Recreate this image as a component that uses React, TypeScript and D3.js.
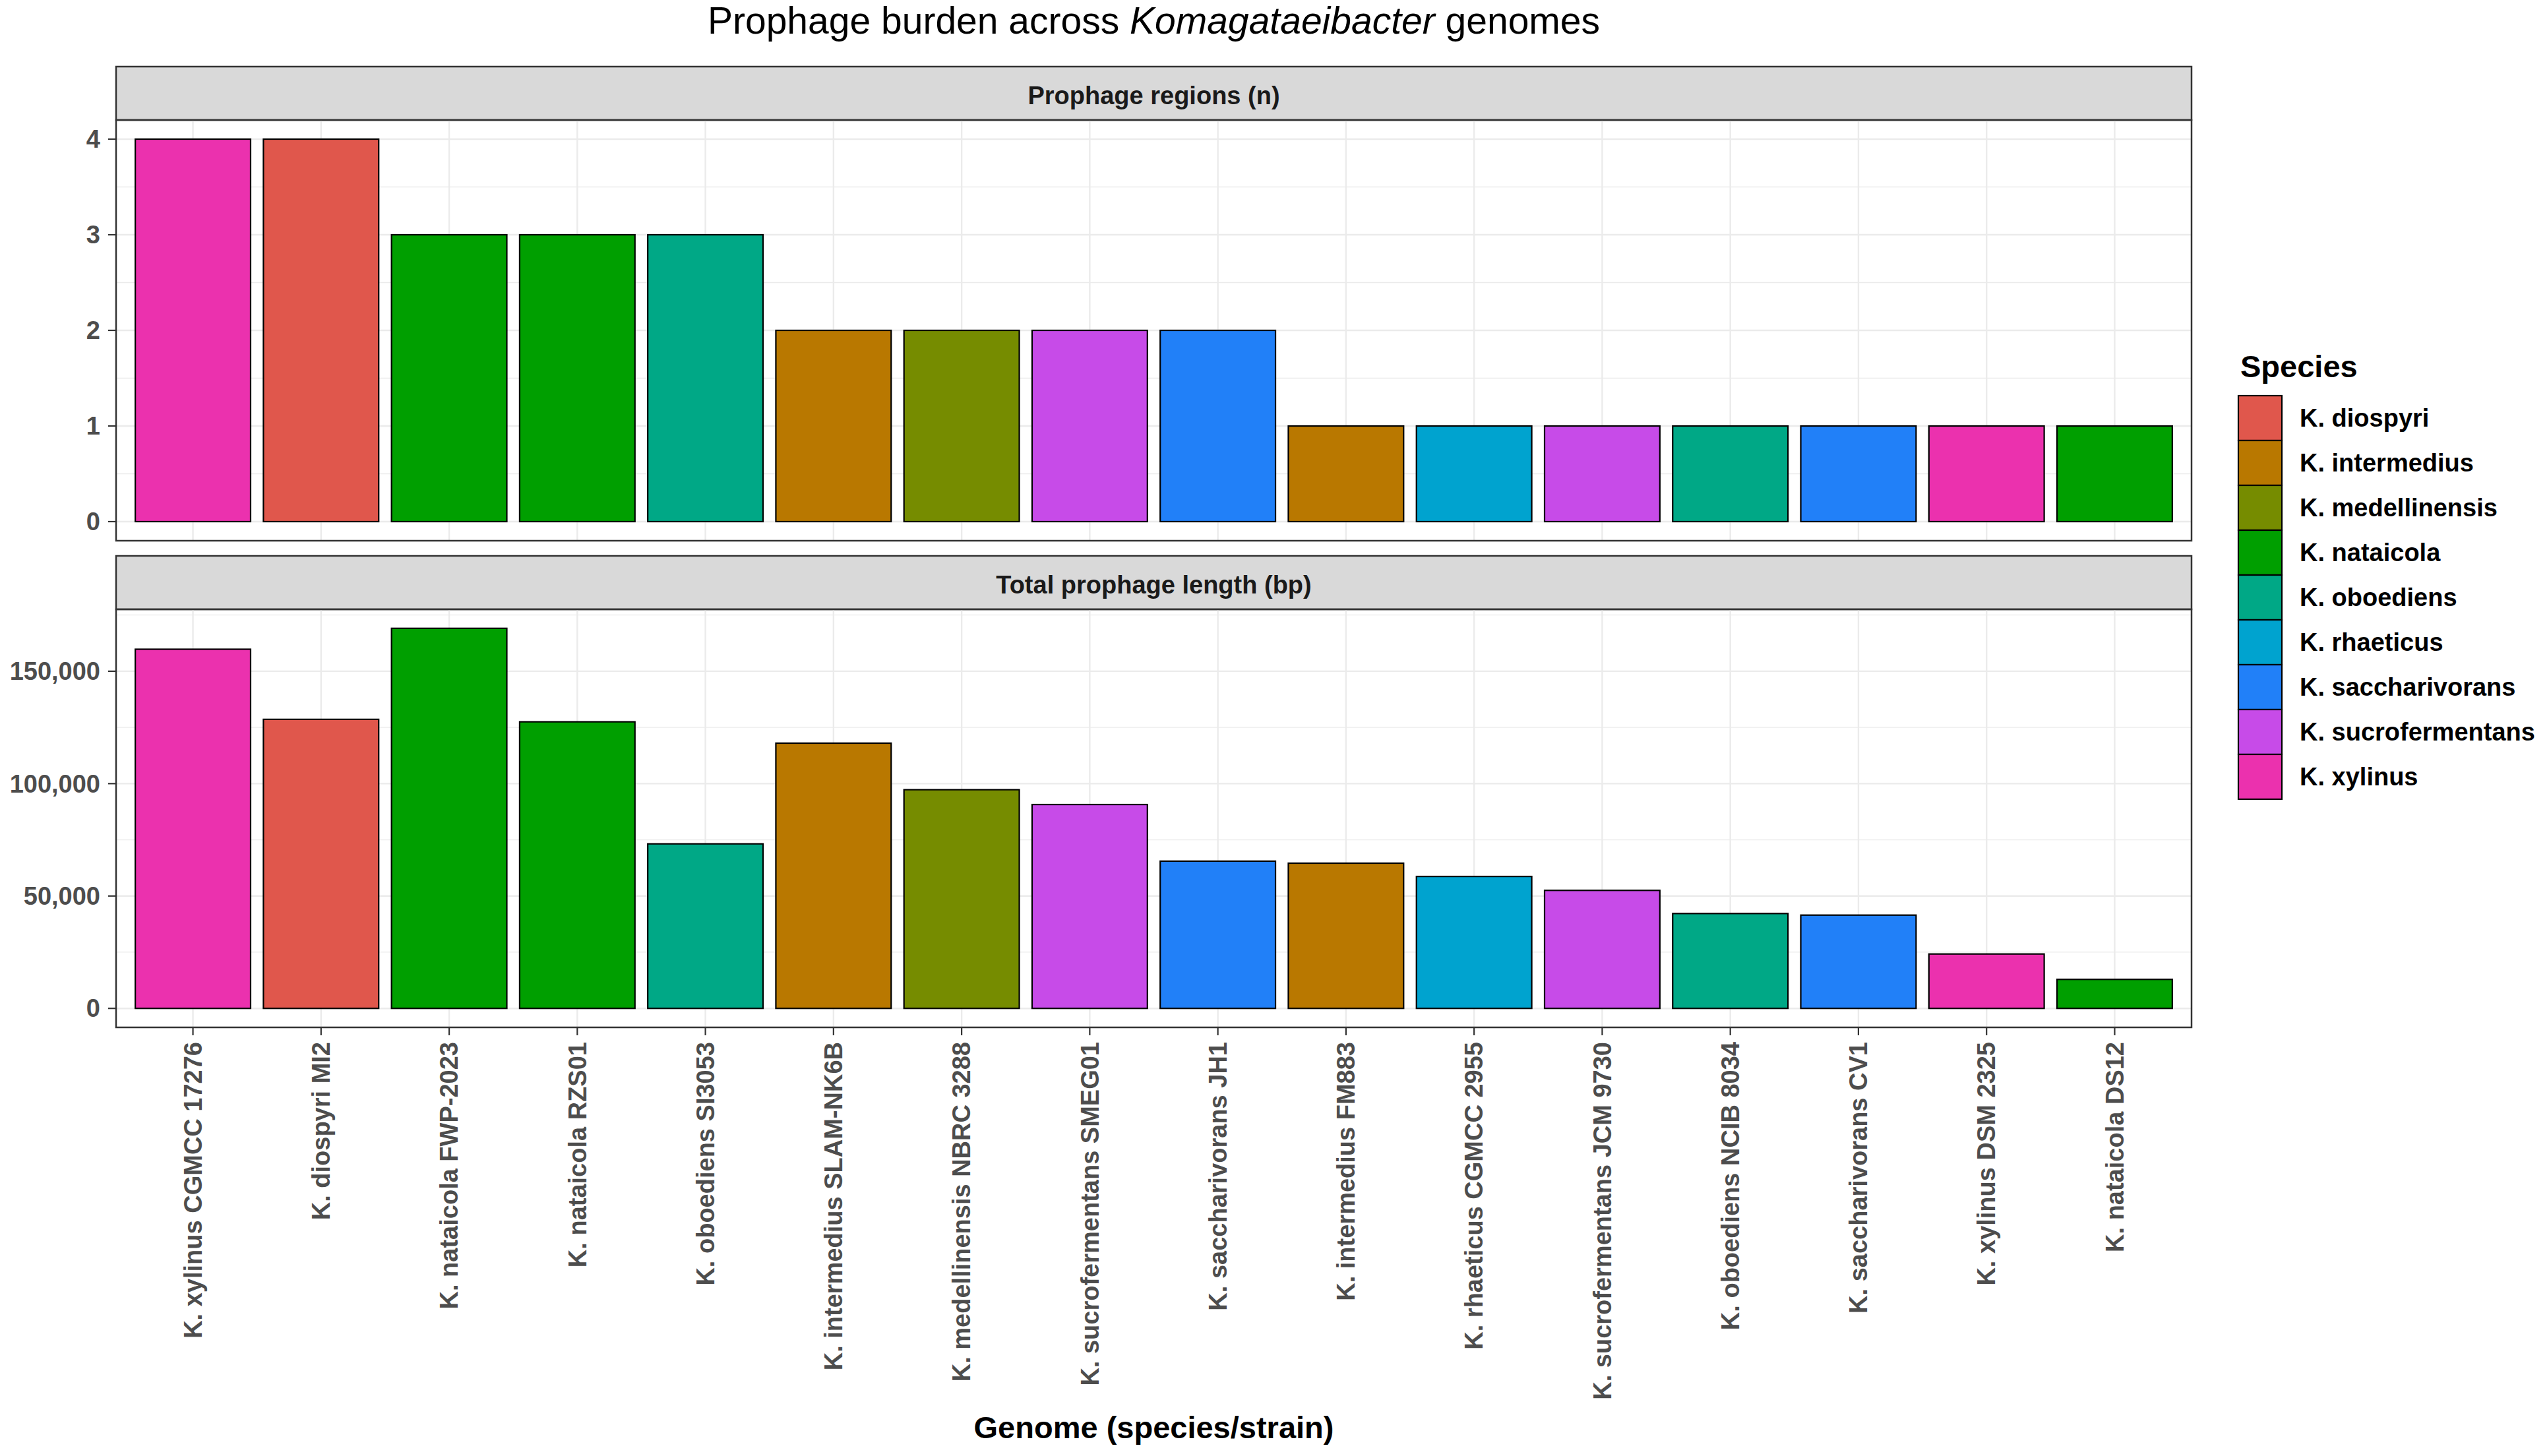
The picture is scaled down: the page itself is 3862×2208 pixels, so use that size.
import * as d3 from "d3";

// genomes in plotted order
const genomes = [
  "K. xylinus CGMCC 17276",
  "K. diospyri MI2",
  "K. nataicola FWP-2023",
  "K. nataicola RZS01",
  "K. oboediens SI3053",
  "K. intermedius SLAM-NK6B",
  "K. medellinensis NBRC 3288",
  "K. sucrofermentans SMEG01",
  "K. saccharivorans JH1",
  "K. intermedius FM883",
  "K. rhaeticus CGMCC 2955",
  "K. sucrofermentans JCM 9730",
  "K. oboediens NCIB 8034",
  "K. saccharivorans CV1",
  "K. xylinus DSM 2325",
  "K. nataicola DS12",
];
const genomeSpecies = [
  "K. xylinus",
  "K. diospyri",
  "K. nataicola",
  "K. nataicola",
  "K. oboediens",
  "K. intermedius",
  "K. medellinensis",
  "K. sucrofermentans",
  "K. saccharivorans",
  "K. intermedius",
  "K. rhaeticus",
  "K. sucrofermentans",
  "K. oboediens",
  "K. saccharivorans",
  "K. xylinus",
  "K. nataicola",
];
const regionCounts = [4, 4, 3, 3, 3, 2, 2, 2, 2, 1, 1, 1, 1, 1, 1, 1];
const totalLengths = [
  159800, 128600, 169100, 127500, 73200, 118000, 97300, 90700, 65500, 64600,
  58700, 52500, 42200, 41500, 24200, 12900,
];

const speciesList = [
  "K. diospyri",
  "K. intermedius",
  "K. medellinensis",
  "K. nataicola",
  "K. oboediens",
  "K. rhaeticus",
  "K. saccharivorans",
  "K. sucrofermentans",
  "K. xylinus",
];
const speciesColors = [
  "#E0574C",
  "#B97800",
  "#768C00",
  "#009F00",
  "#00A886",
  "#00A3CF",
  "#2180F8",
  "#C74BE8",
  "#EB31AE",
];

const regionTicks = [0, 1, 2, 3, 4];
const lengthTicks = [0, 50000, 100000, 150000];

const W = 3862;
const H = 2208;
const FONT = "'Liberation Sans', Arial, sans-serif";

const left = 176;
const right = 3323;
const stripH = 81;
const top1 = 101;
const bottom1 = 820;
const top2 = 843;
const bottom2 = 1558;

const color = d3.scaleOrdinal<string, string>().domain(speciesList).range(speciesColors);

const x = d3
  .scaleBand<string>()
  .domain(genomes)
  .range([left, right])
  .paddingInner(0.1)
  .paddingOuter(0.15);

interface PanelProps {
  title: string;
  top: number;
  bottom: number;
  values: number[];
  ticks: number[];
  minor: number[];
  fmt: (v: number) => string;
}

function Panel({ title, top, bottom, values, ticks, minor, fmt }: PanelProps) {
  const maxV = d3.max(values) as number;
  const plotTop = top + stripH;
  const y = d3
    .scaleLinear()
    .domain([-0.05 * maxV, 1.05 * maxV])
    .range([bottom, plotTop]);
  const cx = (g: string) => (x(g) as number) + x.bandwidth() / 2;
  return (
    <g>
      {/* strip */}
      <rect
        x={left}
        y={top}
        width={right - left}
        height={stripH}
        fill="#D9D9D9"
        stroke="#333333"
        strokeWidth={2.5}
      />
      <text
        x={(left + right) / 2}
        y={top + 57}
        textAnchor="middle"
        fontFamily={FONT}
        fontWeight="bold"
        fontSize={38}
        fill="#1A1A1A"
      >
        {title}
      </text>
      {/* grid */}
      {minor.map((v) => (
        <line key={"mi" + v} x1={left} x2={right} y1={y(v)} y2={y(v)} stroke="#EBEBEB" strokeWidth={1.3} />
      ))}
      {ticks.map((v) => (
        <line key={"ma" + v} x1={left} x2={right} y1={y(v)} y2={y(v)} stroke="#EBEBEB" strokeWidth={2.4} />
      ))}
      {genomes.map((g) => (
        <line key={"v" + g} x1={cx(g)} x2={cx(g)} y1={plotTop} y2={bottom} stroke="#EBEBEB" strokeWidth={2.4} />
      ))}
      {/* bars */}
      {genomes.map((g, i) => (
        <rect
          key={g}
          x={x(g)}
          y={y(values[i])}
          width={x.bandwidth()}
          height={y(0) - y(values[i])}
          fill={color(genomeSpecies[i])}
          stroke="#000000"
          strokeWidth={2.2}
        />
      ))}
      {/* border */}
      <rect
        x={left}
        y={plotTop}
        width={right - left}
        height={bottom - plotTop}
        fill="none"
        stroke="#333333"
        strokeWidth={2.5}
      />
      {/* y axis */}
      {ticks.map((v) => (
        <g key={"t" + v}>
          <line x1={left - 12} x2={left} y1={y(v)} y2={y(v)} stroke="#333333" strokeWidth={2.2} />
          <text
            x={left - 24}
            y={y(v)}
            dy="0.35em"
            textAnchor="end"
            fontFamily={FONT}
            fontWeight="bold"
            fontSize={38}
            fill="#4D4D4D"
          >
            {fmt(v)}
          </text>
        </g>
      ))}
    </g>
  );
}

export default function App() {
  const cx = (g: string) => (x(g) as number) + x.bandwidth() / 2;
  const comma = d3.format(",");
  return (
    <svg
      width={W}
      height={H}
      style={{ position: "absolute", left: 0, top: 0, background: "#fff" }}
    >
      <rect width={W} height={H} fill="#ffffff" />
      <text
        x={(left + right) / 2}
        y={51}
        textAnchor="middle"
        fontFamily={FONT}
        fontSize={57}
        fill="#000000"
      >
        Prophage burden across <tspan fontStyle="italic">Komagataeibacter</tspan> genomes
      </text>

      <Panel
        title="Prophage regions (n)"
        top={top1}
        bottom={bottom1}
        values={regionCounts}
        ticks={regionTicks}
        minor={[0.5, 1.5, 2.5, 3.5]}
        fmt={(v) => String(v)}
      />
      <Panel
        title="Total prophage length (bp)"
        top={top2}
        bottom={bottom2}
        values={totalLengths}
        ticks={lengthTicks}
        minor={[25000, 75000, 125000, 175000]}
        fmt={(v) => comma(v)}
      />

      {/* x axis */}
      {genomes.map((g) => (
        <g key={"x" + g}>
          <line x1={cx(g)} x2={cx(g)} y1={bottom2} y2={bottom2 + 12} stroke="#333333" strokeWidth={2.2} />
          <text
            transform={`translate(${cx(g)},${bottom2 + 22}) rotate(-90)`}
            dy="0.35em"
            textAnchor="end"
            fontFamily={FONT}
            fontWeight="bold"
            fontSize={38}
            fill="#4D4D4D"
          >
            {g}
          </text>
        </g>
      ))}
      <text
        x={(left + right) / 2}
        y={2181}
        textAnchor="middle"
        fontFamily={FONT}
        fontWeight="bold"
        fontSize={47}
        fill="#000000"
      >
        Genome (species/strain)
      </text>

      {/* legend */}
      <text x={3397} y={572} fontFamily={FONT} fontWeight="bold" fontSize={47} fill="#000000">
        Species
      </text>
      {speciesList.map((s, i) => (
        <g key={"lg" + s}>
          <rect
            x={3394}
            y={600 + i * 68}
            width={66}
            height={68}
            fill={color(s)}
            stroke="#000000"
            strokeWidth={2.2}
          />
          <text
            x={3487}
            y={600 + i * 68 + 34}
            dy="0.35em"
            fontFamily={FONT}
            fontWeight="bold"
            fontSize={38}
            fill="#000000"
          >
            {s}
          </text>
        </g>
      ))}
    </svg>
  );
}
